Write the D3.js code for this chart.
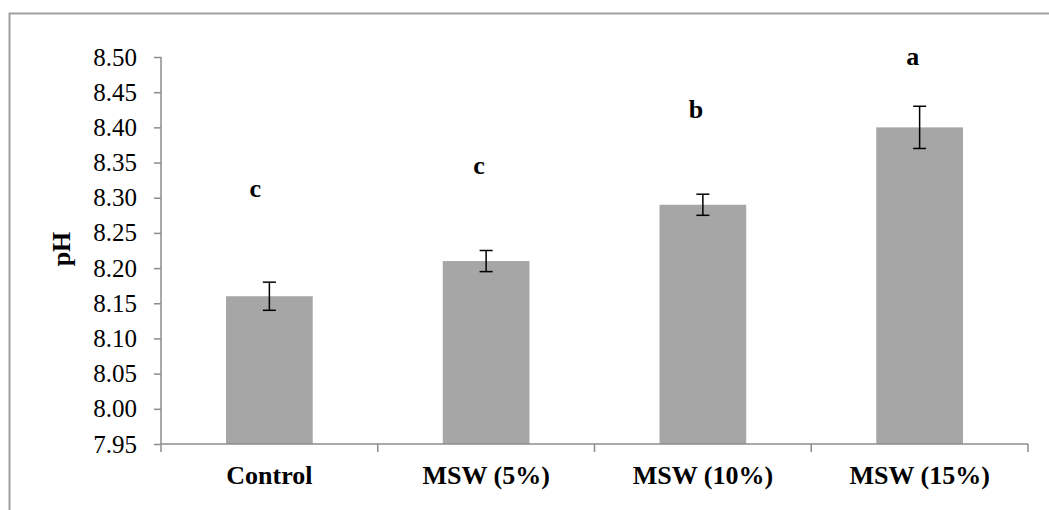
<!DOCTYPE html>
<html>
<head>
<meta charset="utf-8">
<script src="https://cdn.jsdelivr.net/npm/d3@7"></script>
<style>
  body { margin: 0; background: #fff; }
  svg { display: block; }
  svg text { font-family: 'Liberation Serif', 'Times New Roman', serif; }
</style>
</head>
<body>
<div id="chart"></div>
<script>
// data
var categories = ['Control', 'MSW (5%)', 'MSW (10%)', 'MSW (15%)'];
var phValues = [8.16, 8.21, 8.29, 8.40];
var phErrors = [0.02, 0.015, 0.015, 0.03];
var letters = ['c', 'c', 'b', 'a'];
var letterLevels = [8.312, 8.345, 8.424, 8.50];
var yTicks = [7.95, 8.00, 8.05, 8.10, 8.15, 8.20, 8.25, 8.30, 8.35, 8.40, 8.45, 8.50];

var width = 1049, height = 510;
var margin = {top: 57, left: 161, right: 21, bottom: 66};

var svg = d3.select('#chart').append('svg')
  .attr('width', width)
  .attr('height', height);

// outer frame (clipped by the window on right and bottom)
svg.append('path')
  .attr('d', 'M9.5,' + height + 'V13.5H' + (width + 2))
  .attr('fill', 'none')
  .attr('stroke', '#a0a0a0')
  .attr('stroke-width', 2);

var x = d3.scaleBand()
  .domain(categories)
  .range([margin.left, width - margin.right]);

var y = d3.scaleLinear()
  .domain([7.95, 8.50])
  .range([height - margin.bottom, margin.top]);

var barW = x.bandwidth() * 0.4;

// bars
svg.append('g').selectAll('rect')
  .data(phValues)
  .enter()
  .append('rect')
  .attr('x', function(d, i) { return x(categories[i]) + x.bandwidth() / 2 - barW / 2; })
  .attr('y', function(d) { return y(d); })
  .attr('width', barW)
  .attr('height', function(d) { return y(7.95) - y(d); })
  .attr('fill', '#a6a6a6');

// y axis
var yAxis = svg.append('g')
  .attr('transform', 'translate(' + margin.left + ',0)')
  .call(d3.axisLeft(y).tickValues(yTicks).tickSize(7).tickPadding(17)
    .tickFormat(d3.format('.2f')));
yAxis.selectAll('line, path').attr('stroke', '#8c8c8c').attr('stroke-width', 1.5);
yAxis.select('.domain').attr('d', 'M0,' + y(8.50) + 'V' + y(7.95));
yAxis.selectAll('text')
  .style('font-size', '25px')
  .style('font-family', "'Liberation Serif', serif")
  .attr('fill', '#000');

// x axis
var xAxis = svg.append('g')
  .attr('transform', 'translate(0,' + y(7.95) + ')')
  .call(d3.axisBottom(x).tickSize(0).tickPadding(22));
xAxis.select('.domain').attr('d', 'M' + margin.left + ',0H' + (width - margin.right))
  .attr('stroke', '#8c8c8c').attr('stroke-width', 1.5);
xAxis.selectAll('text')
  .style('font-size', '26px')
  .style('font-weight', 'bold')
  .style('font-family', "'Liberation Serif', serif")
  .attr('fill', '#000');

// category separator ticks
svg.append('g').selectAll('line')
  .data(categories.concat(['end']))
  .enter()
  .append('line')
  .attr('x1', function(d, i) { return i < categories.length ? x(d) : x(categories[i - 1]) + x.bandwidth(); })
  .attr('x2', function(d, i) { return i < categories.length ? x(d) : x(categories[i - 1]) + x.bandwidth(); })
  .attr('y1', y(7.95))
  .attr('y2', y(7.95) + 8)
  .attr('stroke', '#8c8c8c')
  .attr('stroke-width', 1.5);

// error bars
var errG = svg.append('g').selectAll('g')
  .data(phValues)
  .enter()
  .append('g')
  .attr('stroke', '#000')
  .attr('stroke-width', 1.5);

errG.append('line')
  .attr('x1', function(d, i) { return x(categories[i]) + x.bandwidth() / 2; })
  .attr('x2', function(d, i) { return x(categories[i]) + x.bandwidth() / 2; })
  .attr('y1', function(d, i) { return y(d + phErrors[i]); })
  .attr('y2', function(d, i) { return y(d - phErrors[i]); });

[1, -1].forEach(function(sign) {
  errG.append('line')
    .attr('x1', function(d, i) { return x(categories[i]) + x.bandwidth() / 2 - 6.5; })
    .attr('x2', function(d, i) { return x(categories[i]) + x.bandwidth() / 2 + 6.5; })
    .attr('y1', function(d, i) { return y(d + sign * phErrors[i]); })
    .attr('y2', function(d, i) { return y(d + sign * phErrors[i]); });
});

// significance letters
svg.append('g').selectAll('text')
  .data(letters)
  .enter()
  .append('text')
  .attr('x', function(d, i) { return x(categories[i]) + x.bandwidth() / 2 - (i === 0 ? 14 : 7); })
  .attr('y', function(d, i) { return y(letterLevels[i]); })
  .attr('dy', '0.3em')
  .attr('text-anchor', 'middle')
  .style('font-size', '26px')
  .style('font-weight', 'bold')
  .text(function(d) { return d; });

// y title
svg.append('text')
  .attr('transform', 'translate(70,' + 249 + ') rotate(-90)')
  .attr('text-anchor', 'middle')
  .style('font-size', '26px')
  .style('font-weight', 'bold')
  .text('pH');
</script>
</body>
</html>
